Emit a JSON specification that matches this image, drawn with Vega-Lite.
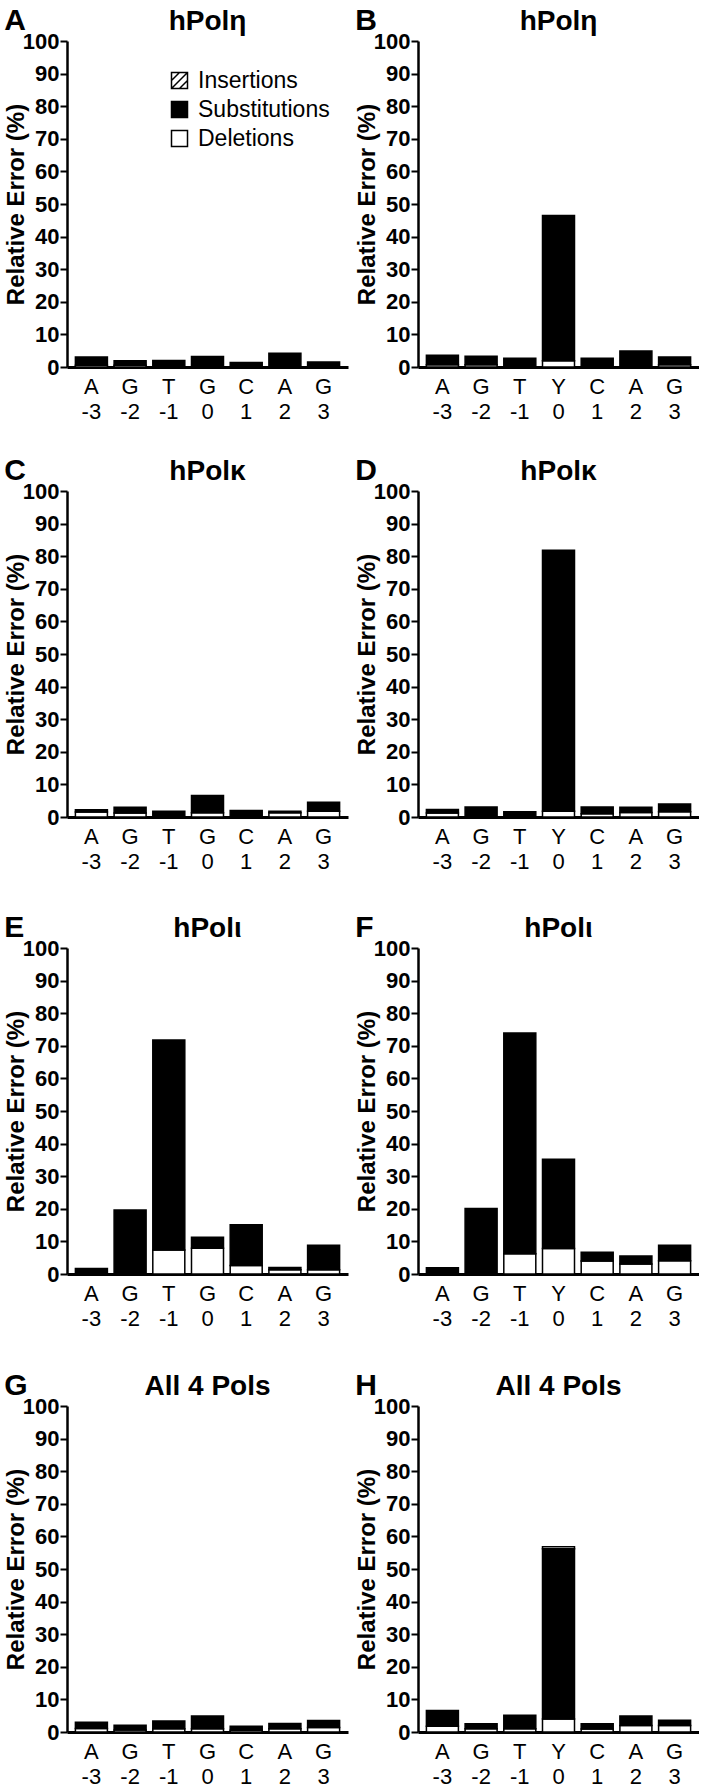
{
  "$schema": "https://vega.github.io/schema/vega-lite/v6.json",
  "background": "white",
  "padding": {"left": 4, "top": 6, "right": 0, "bottom": 0},
  "data": {"values": [
    {"panel": "A", "site": "A -3", "type": "Deletions", "value": 0.5},
    {"panel": "A", "site": "A -3", "type": "Substitutions", "value": 2.6},
    {"panel": "A", "site": "G -2", "type": "Deletions", "value": 0.5},
    {"panel": "A", "site": "G -2", "type": "Substitutions", "value": 1.4},
    {"panel": "A", "site": "T -1", "type": "Substitutions", "value": 2.0},
    {"panel": "A", "site": "G 0", "type": "Substitutions", "value": 3.2},
    {"panel": "A", "site": "C 1", "type": "Substitutions", "value": 1.4},
    {"panel": "A", "site": "A 2", "type": "Substitutions", "value": 4.2},
    {"panel": "A", "site": "G 3", "type": "Substitutions", "value": 1.5},

    {"panel": "B", "site": "A -3", "type": "Deletions", "value": 0.7},
    {"panel": "B", "site": "A -3", "type": "Substitutions", "value": 2.9},
    {"panel": "B", "site": "G -2", "type": "Deletions", "value": 0.7},
    {"panel": "B", "site": "G -2", "type": "Substitutions", "value": 2.6},
    {"panel": "B", "site": "T -1", "type": "Substitutions", "value": 2.7},
    {"panel": "B", "site": "Y 0", "type": "Deletions", "value": 1.9},
    {"panel": "B", "site": "Y 0", "type": "Substitutions", "value": 44.6},
    {"panel": "B", "site": "C 1", "type": "Substitutions", "value": 2.7},
    {"panel": "B", "site": "A 2", "type": "Substitutions", "value": 4.9},
    {"panel": "B", "site": "G 3", "type": "Deletions", "value": 0.7},
    {"panel": "B", "site": "G 3", "type": "Substitutions", "value": 2.4},

    {"panel": "C", "site": "A -3", "type": "Deletions", "value": 1.5},
    {"panel": "C", "site": "A -3", "type": "Substitutions", "value": 0.7},
    {"panel": "C", "site": "G -2", "type": "Deletions", "value": 1.2},
    {"panel": "C", "site": "G -2", "type": "Substitutions", "value": 1.8},
    {"panel": "C", "site": "T -1", "type": "Substitutions", "value": 1.8},
    {"panel": "C", "site": "G 0", "type": "Deletions", "value": 1.3},
    {"panel": "C", "site": "G 0", "type": "Substitutions", "value": 5.3},
    {"panel": "C", "site": "C 1", "type": "Substitutions", "value": 2.0},
    {"panel": "C", "site": "A 2", "type": "Deletions", "value": 1.3},
    {"panel": "C", "site": "A 2", "type": "Substitutions", "value": 0.5},
    {"panel": "C", "site": "G 3", "type": "Deletions", "value": 1.8},
    {"panel": "C", "site": "G 3", "type": "Substitutions", "value": 2.7},

    {"panel": "D", "site": "A -3", "type": "Deletions", "value": 1.2},
    {"panel": "D", "site": "A -3", "type": "Substitutions", "value": 1.1},
    {"panel": "D", "site": "G -2", "type": "Substitutions", "value": 3.1},
    {"panel": "D", "site": "T -1", "type": "Substitutions", "value": 1.6},
    {"panel": "D", "site": "Y 0", "type": "Deletions", "value": 1.8},
    {"panel": "D", "site": "Y 0", "type": "Substitutions", "value": 80.0},
    {"panel": "D", "site": "C 1", "type": "Deletions", "value": 1.0},
    {"panel": "D", "site": "C 1", "type": "Substitutions", "value": 2.1},
    {"panel": "D", "site": "A 2", "type": "Deletions", "value": 1.4},
    {"panel": "D", "site": "A 2", "type": "Substitutions", "value": 1.6},
    {"panel": "D", "site": "G 3", "type": "Deletions", "value": 1.6},
    {"panel": "D", "site": "G 3", "type": "Substitutions", "value": 2.4},

    {"panel": "E", "site": "A -3", "type": "Substitutions", "value": 1.7},
    {"panel": "E", "site": "G -2", "type": "Substitutions", "value": 19.6},
    {"panel": "E", "site": "T -1", "type": "Deletions", "value": 7.4},
    {"panel": "E", "site": "T -1", "type": "Substitutions", "value": 64.4},
    {"panel": "E", "site": "G 0", "type": "Deletions", "value": 7.9},
    {"panel": "E", "site": "G 0", "type": "Substitutions", "value": 3.4},
    {"panel": "E", "site": "C 1", "type": "Deletions", "value": 2.6},
    {"panel": "E", "site": "C 1", "type": "Substitutions", "value": 12.5},
    {"panel": "E", "site": "A 2", "type": "Deletions", "value": 1.3},
    {"panel": "E", "site": "A 2", "type": "Substitutions", "value": 0.7},
    {"panel": "E", "site": "G 3", "type": "Deletions", "value": 1.3},
    {"panel": "E", "site": "G 3", "type": "Substitutions", "value": 7.5},

    {"panel": "F", "site": "A -3", "type": "Substitutions", "value": 1.9},
    {"panel": "F", "site": "G -2", "type": "Substitutions", "value": 20.1},
    {"panel": "F", "site": "T -1", "type": "Deletions", "value": 6.2},
    {"panel": "F", "site": "T -1", "type": "Substitutions", "value": 67.7},
    {"panel": "F", "site": "Y 0", "type": "Deletions", "value": 7.8},
    {"panel": "F", "site": "Y 0", "type": "Substitutions", "value": 27.4},
    {"panel": "F", "site": "C 1", "type": "Deletions", "value": 4.0},
    {"panel": "F", "site": "C 1", "type": "Substitutions", "value": 2.7},
    {"panel": "F", "site": "A 2", "type": "Deletions", "value": 3.1},
    {"panel": "F", "site": "A 2", "type": "Substitutions", "value": 2.4},
    {"panel": "F", "site": "G 3", "type": "Deletions", "value": 4.1},
    {"panel": "F", "site": "G 3", "type": "Substitutions", "value": 4.7},

    {"panel": "G", "site": "A -3", "type": "Deletions", "value": 1.1},
    {"panel": "G", "site": "A -3", "type": "Substitutions", "value": 1.9},
    {"panel": "G", "site": "G -2", "type": "Deletions", "value": 0.6},
    {"panel": "G", "site": "G -2", "type": "Substitutions", "value": 1.5},
    {"panel": "G", "site": "T -1", "type": "Deletions", "value": 1.0},
    {"panel": "G", "site": "T -1", "type": "Substitutions", "value": 2.4},
    {"panel": "G", "site": "G 0", "type": "Deletions", "value": 1.0},
    {"panel": "G", "site": "G 0", "type": "Substitutions", "value": 3.9},
    {"panel": "G", "site": "C 1", "type": "Deletions", "value": 0.5},
    {"panel": "G", "site": "C 1", "type": "Substitutions", "value": 1.3},
    {"panel": "G", "site": "A 2", "type": "Deletions", "value": 1.0},
    {"panel": "G", "site": "A 2", "type": "Substitutions", "value": 1.6},
    {"panel": "G", "site": "G 3", "type": "Deletions", "value": 1.4},
    {"panel": "G", "site": "G 3", "type": "Substitutions", "value": 2.1},

    {"panel": "H", "site": "A -3", "type": "Deletions", "value": 1.8},
    {"panel": "H", "site": "A -3", "type": "Substitutions", "value": 4.8},
    {"panel": "H", "site": "G -2", "type": "Deletions", "value": 1.0},
    {"panel": "H", "site": "G -2", "type": "Substitutions", "value": 1.5},
    {"panel": "H", "site": "T -1", "type": "Deletions", "value": 1.0},
    {"panel": "H", "site": "T -1", "type": "Substitutions", "value": 4.1},
    {"panel": "H", "site": "Y 0", "type": "Deletions", "value": 4.0},
    {"panel": "H", "site": "Y 0", "type": "Substitutions", "value": 52.2},
    {"panel": "H", "site": "Y 0", "type": "Insertions", "value": 0.6},
    {"panel": "H", "site": "C 1", "type": "Deletions", "value": 0.9},
    {"panel": "H", "site": "C 1", "type": "Substitutions", "value": 1.6},
    {"panel": "H", "site": "A 2", "type": "Deletions", "value": 2.0},
    {"panel": "H", "site": "A 2", "type": "Substitutions", "value": 2.9},
    {"panel": "H", "site": "G 3", "type": "Deletions", "value": 2.0},
    {"panel": "H", "site": "G 3", "type": "Substitutions", "value": 1.6}
  ]},
  "spacing": 34,
  "resolve": {"scale": {"fill": "independent", "shape": "independent", "x": "independent"}, "legend": {"fill": "independent", "shape": "independent"}},
  "vconcat": [
    {"spacing": 7, "resolve": {"scale": {"fill": "independent", "shape": "independent", "x": "independent"}, "legend": {"fill": "independent", "shape": "independent"}}, "hconcat": [
      {"title": {"text": "A", "anchor": "start", "frame": "bounds", "fontSize": 30, "offset": 0, "dy": 28}, "resolve": {"scale": {"fill": "independent", "shape": "independent"}, "legend": {"fill": "independent", "shape": "independent"}}, "vconcat": [{
        "width": 281, "height": 326, "title": "hPolη",
        "transform": [{"filter": "datum.panel === 'A'"}, {"calculate": "indexof(['Deletions','Substitutions','Insertions'], datum.type)", "as": "stackorder"}],
        "layer": [
          {"mark": "bar",
           "encoding": {
             "x": {"field": "site", "type": "nominal", "sort": null, "scale": {"paddingInner": 0.173, "paddingOuter": 0.217}},
             "y": {"field": "value", "type": "quantitative", "stack": "zero", "scale": {"domain": [0, 100]}, "title": "Relative Error (%)"},
             "fill": {"field": "type", "type": "nominal", "title": null, "scale": {"domain": ["Insertions", "Substitutions", "Deletions"], "range": ["white", "black", "white"]},
               "legend": {"orient": "none", "legendX": 101, "legendY": 28, "padding": 0, "title": null, "symbolSize": 256, "symbolStrokeColor": "black", "symbolStrokeWidth": 1.5, "symbolOpacity": 1, "labelFontSize": 23, "labelFont": "Liberation Sans", "labelColor": "black", "rowPadding": 5, "labelOffset": 7}},
             "order": {"field": "stackorder", "type": "quantitative"}
           }},
          {"mark": {"type": "point", "filled": true, "stroke": "black", "strokeWidth": 1.5, "opacity": 1},
           "transform": [{"filter": "false"}],
           "encoding": {
             "x": {"field": "site", "type": "nominal", "sort": null},
             "y": {"field": "value", "type": "quantitative"},
             "fill": {"field": "type", "type": "nominal", "title": null, "scale": {"domain": ["Insertions", "Substitutions", "Deletions"], "range": ["white", "black", "white"]},
               "legend": {"orient": "none", "legendX": 101, "legendY": 28, "padding": 0, "title": null, "symbolSize": 256, "symbolStrokeColor": "black", "symbolStrokeWidth": 1.5, "symbolOpacity": 1, "labelFontSize": 23, "labelFont": "Liberation Sans", "labelColor": "black", "rowPadding": 5, "labelOffset": 7}},
             "shape": {"field": "type", "type": "nominal", "title": null, "scale": {"domain": ["Insertions", "Substitutions", "Deletions"], "range": ["M-1,-1H1V1H-1Z M-1,0L0,-1 M-1,1L1,-1 M0,1L1,0", "square", "square"]},
               "legend": {"orient": "none", "legendX": 101, "legendY": 28, "padding": 0, "title": null, "symbolSize": 256, "symbolStrokeColor": "black", "symbolStrokeWidth": 1.5, "symbolOpacity": 1, "labelFontSize": 23, "labelFont": "Liberation Sans", "labelColor": "black", "rowPadding": 5, "labelOffset": 7}}
           }}
        ]
      }]},
      {"title": {"text": "B", "anchor": "start", "frame": "bounds", "fontSize": 30, "offset": 0, "dy": 28}, "vconcat": [{
        "width": 281, "height": 326, "title": "hPolη",
        "transform": [{"filter": "datum.panel === 'B'"}, {"calculate": "indexof(['Deletions','Substitutions','Insertions'], datum.type)", "as": "stackorder"}],
        "mark": "bar",
        "encoding": {
          "x": {"field": "site", "type": "nominal", "sort": null, "scale": {"paddingInner": 0.173, "paddingOuter": 0.217}},
          "y": {"field": "value", "type": "quantitative", "stack": "zero", "scale": {"domain": [0, 100]}, "title": "Relative Error (%)"},
          "fill": {"field": "type", "type": "nominal", "scale": {"domain": ["Insertions", "Substitutions", "Deletions"], "range": ["white", "black", "white"]}, "legend": null},
          "order": {"field": "stackorder", "type": "quantitative"}
        }
      }]}
    ]},
    {"spacing": 41, "resolve": {"scale": {"fill": "independent", "x": "independent"}, "legend": {"fill": "independent"}}, "vconcat": [
      {"spacing": 7, "resolve": {"scale": {"fill": "independent", "x": "independent"}, "legend": {"fill": "independent"}}, "hconcat": [
        {"title": {"text": "C", "anchor": "start", "frame": "bounds", "fontSize": 30, "offset": 0, "dy": 28}, "vconcat": [{
          "width": 281, "height": 326, "title": "hPolκ",
          "transform": [{"filter": "datum.panel === 'C'"}, {"calculate": "indexof(['Deletions','Substitutions','Insertions'], datum.type)", "as": "stackorder"}],
          "mark": "bar",
          "encoding": {
            "x": {"field": "site", "type": "nominal", "sort": null, "scale": {"paddingInner": 0.173, "paddingOuter": 0.217}},
            "y": {"field": "value", "type": "quantitative", "stack": "zero", "scale": {"domain": [0, 100]}, "title": "Relative Error (%)"},
            "fill": {"field": "type", "type": "nominal", "scale": {"domain": ["Insertions", "Substitutions", "Deletions"], "range": ["white", "black", "white"]}, "legend": null},
            "order": {"field": "stackorder", "type": "quantitative"}
          }
        }]},
        {"title": {"text": "D", "anchor": "start", "frame": "bounds", "fontSize": 30, "offset": 0, "dy": 28}, "vconcat": [{
          "width": 281, "height": 326, "title": "hPolκ",
          "transform": [{"filter": "datum.panel === 'D'"}, {"calculate": "indexof(['Deletions','Substitutions','Insertions'], datum.type)", "as": "stackorder"}],
          "mark": "bar",
          "encoding": {
            "x": {"field": "site", "type": "nominal", "sort": null, "scale": {"paddingInner": 0.173, "paddingOuter": 0.217}},
            "y": {"field": "value", "type": "quantitative", "stack": "zero", "scale": {"domain": [0, 100]}, "title": "Relative Error (%)"},
            "fill": {"field": "type", "type": "nominal", "scale": {"domain": ["Insertions", "Substitutions", "Deletions"], "range": ["white", "black", "white"]}, "legend": null},
            "order": {"field": "stackorder", "type": "quantitative"}
          }
        }]}
      ]},
      {"spacing": 42, "resolve": {"scale": {"fill": "independent", "x": "independent"}, "legend": {"fill": "independent"}}, "vconcat": [
        {"spacing": 7, "resolve": {"scale": {"fill": "independent", "x": "independent"}, "legend": {"fill": "independent"}}, "hconcat": [
          {"title": {"text": "E", "anchor": "start", "frame": "bounds", "fontSize": 30, "offset": 0, "dy": 28}, "vconcat": [{
            "width": 281, "height": 326, "title": "hPolι",
            "transform": [{"filter": "datum.panel === 'E'"}, {"calculate": "indexof(['Deletions','Substitutions','Insertions'], datum.type)", "as": "stackorder"}],
            "mark": "bar",
            "encoding": {
              "x": {"field": "site", "type": "nominal", "sort": null, "scale": {"paddingInner": 0.173, "paddingOuter": 0.217}},
              "y": {"field": "value", "type": "quantitative", "stack": "zero", "scale": {"domain": [0, 100]}, "title": "Relative Error (%)"},
              "fill": {"field": "type", "type": "nominal", "scale": {"domain": ["Insertions", "Substitutions", "Deletions"], "range": ["white", "black", "white"]}, "legend": null},
              "order": {"field": "stackorder", "type": "quantitative"}
            }
          }]},
          {"title": {"text": "F", "anchor": "start", "frame": "bounds", "fontSize": 30, "offset": 0, "dy": 28}, "vconcat": [{
            "width": 281, "height": 326, "title": "hPolι",
            "transform": [{"filter": "datum.panel === 'F'"}, {"calculate": "indexof(['Deletions','Substitutions','Insertions'], datum.type)", "as": "stackorder"}],
            "mark": "bar",
            "encoding": {
              "x": {"field": "site", "type": "nominal", "sort": null, "scale": {"paddingInner": 0.173, "paddingOuter": 0.217}},
              "y": {"field": "value", "type": "quantitative", "stack": "zero", "scale": {"domain": [0, 100]}, "title": "Relative Error (%)"},
              "fill": {"field": "type", "type": "nominal", "scale": {"domain": ["Insertions", "Substitutions", "Deletions"], "range": ["white", "black", "white"]}, "legend": null},
              "order": {"field": "stackorder", "type": "quantitative"}
            }
          }]}
        ]},
        {"spacing": 7, "resolve": {"scale": {"fill": "independent", "x": "independent"}, "legend": {"fill": "independent"}}, "hconcat": [
          {"title": {"text": "G", "anchor": "start", "frame": "bounds", "fontSize": 30, "offset": 0, "dy": 28}, "vconcat": [{
            "width": 281, "height": 326, "title": "All 4 Pols",
            "transform": [{"filter": "datum.panel === 'G'"}, {"calculate": "indexof(['Deletions','Substitutions','Insertions'], datum.type)", "as": "stackorder"}],
            "mark": "bar",
            "encoding": {
              "x": {"field": "site", "type": "nominal", "sort": null, "scale": {"paddingInner": 0.173, "paddingOuter": 0.217}},
              "y": {"field": "value", "type": "quantitative", "stack": "zero", "scale": {"domain": [0, 100]}, "title": "Relative Error (%)"},
              "fill": {"field": "type", "type": "nominal", "scale": {"domain": ["Insertions", "Substitutions", "Deletions"], "range": ["white", "black", "white"]}, "legend": null},
              "order": {"field": "stackorder", "type": "quantitative"}
            }
          }]},
          {"title": {"text": "H", "anchor": "start", "frame": "bounds", "fontSize": 30, "offset": 0, "dy": 28}, "vconcat": [{
            "width": 281, "height": 326, "title": "All 4 Pols",
            "transform": [{"filter": "datum.panel === 'H'"}, {"calculate": "indexof(['Deletions','Substitutions','Insertions'], datum.type)", "as": "stackorder"}],
            "mark": "bar",
            "encoding": {
              "x": {"field": "site", "type": "nominal", "sort": null, "scale": {"paddingInner": 0.173, "paddingOuter": 0.217}},
              "y": {"field": "value", "type": "quantitative", "stack": "zero", "scale": {"domain": [0, 100]}, "title": "Relative Error (%)"},
              "fill": {"field": "type", "type": "nominal", "scale": {"domain": ["Insertions", "Substitutions", "Deletions"], "range": ["white", "black", "white"]}, "legend": null},
              "order": {"field": "stackorder", "type": "quantitative"}
            }
          }]}
        ]}
      ]}
    ]}
  ],
  "config": {
    "view": {"stroke": null},
    "font": "Liberation Sans",
    "bar": {"stroke": "black", "strokeWidth": 1.5, "opacity": 1},
    "title": {"font": "Liberation Sans", "fontSize": 28, "fontWeight": "bold", "color": "black", "anchor": "middle", "frame": "group", "offset": -6},
    "axisY": {"values": [0, 10, 20, 30, 40, 50, 60, 70, 80, 90, 100], "grid": false, "domainColor": "black", "domainWidth": 2.5, "tickColor": "black", "tickWidth": 2, "tickSize": 7, "labelFont": "Liberation Sans", "labelFontWeight": "bold", "labelFontSize": 22, "labelColor": "black", "labelPadding": 1, "titleFont": "Liberation Sans", "titleFontSize": 24, "titleFontWeight": "bold", "titleColor": "black", "titlePadding": -6},
    "axisX": {"title": null, "ticks": false, "grid": false, "domainColor": "black", "domainWidth": 3, "labelAngle": 0, "labelFont": "Liberation Sans", "labelFontSize": 22, "labelColor": "black", "labelLineHeight": 25, "labelPadding": 9, "labelExpr": "split(datum.value, ' ')"}
  }
}
